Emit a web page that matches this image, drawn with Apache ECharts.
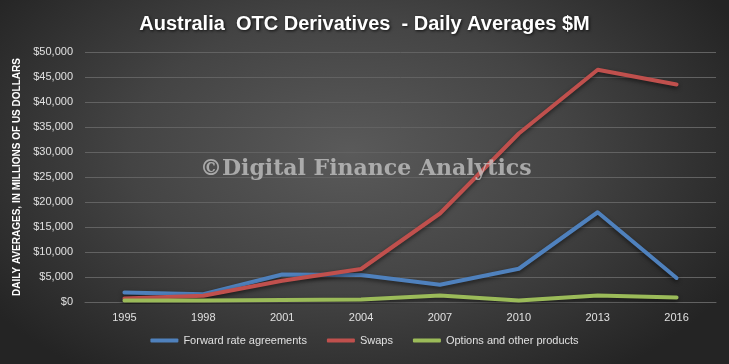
<!DOCTYPE html>
<html>
<head>
<meta charset="utf-8">
<script src="https://cdn.jsdelivr.net/npm/echarts@6/dist/echarts.min.js"></script>
<style>
html,body{margin:0;padding:0;}
#c{width:729px;height:364px;background:radial-gradient(ellipse 60% 75% at 48% 42%, #5a5a5a 0%, #444444 50%, #242424 100%);}
</style>
</head>
<body>
<div id="c"></div>
<script>
const categories = ['1995','1998','2001','2004','2007','2010','2013','2016'];
const forwardRate = [1900, 1550, 5500, 5400, 3450, 6650, 17950, 4800];
const swaps = [700, 1250, 4250, 6600, 17700, 33700, 46450, 43500];
const options = [320, 320, 400, 520, 1300, 320, 1300, 900];
const seriesNames = ['Forward rate agreements', 'Swaps', 'Options and other products'];
const titleText = 'Australia  OTC Derivatives  - Daily Averages $M';
const yAxisName = 'DAILY AVERAGES, IN MILLIONS OF US DOLLARS';
const watermark = '©Digital Finance Analytics';

const colors = ['#4F81BD', '#C0504D', '#9BBB59'];
const chart = echarts.init(document.getElementById('c'));
const font = '"Liberation Sans", Arial, sans-serif';
function lineSeries(name, data, color) {
  return {
    name: name, type: 'line', data: data, symbol: 'none', color: color,
    lineStyle: { width: 4, color: color, shadowColor: 'rgba(0,0,0,0.55)', shadowBlur: 4, shadowOffsetY: 2, cap: 'round', join: 'round' },
    z: 3
  };
}
chart.setOption({
  backgroundColor: 'transparent',
  animation: false,
  color: colors,
  title: {
    text: titleText, left: 'center', top: 9,
    textStyle: { color: '#ffffff', fontSize: 20, fontWeight: 'bold', fontFamily: font,
      textShadowColor: 'rgba(0,0,0,0.8)', textShadowBlur: 3, textShadowOffsetX: 1, textShadowOffsetY: 1 }
  },
  grid: { left: 85, right: 13, top: 52, bottom: 62, containLabel: false },
  legend: {
    data: seriesNames, bottom: 13, left: 'center', itemWidth: 28, itemHeight: 4, itemGap: 20,
    icon: 'roundRect',
    textStyle: { color: '#e0e0e0', fontSize: 11, fontFamily: font }
  },
  xAxis: {
    type: 'category', data: categories, boundaryGap: true,
    axisLine: { show: true, lineStyle: { color: '#626262', width: 1 } },
    axisTick: { show: false },
    axisLabel: { color: '#e0e0e0', fontSize: 11, margin: 10, fontFamily: font }
  },
  yAxis: {
    type: 'value', min: 0, max: 50000, interval: 5000,
    name: yAxisName, nameLocation: 'middle', nameRotate: 90, nameGap: 61,
    nameTextStyle: { color: '#ffffff', fontSize: 10, fontWeight: 'bold', fontFamily: font },
    axisLine: { show: false }, axisTick: { show: false },
    splitLine: { lineStyle: { color: '#626262', width: 1 } },
    axisLabel: { color: '#e0e0e0', fontSize: 11, margin: 12, fontFamily: font,
      formatter: v => '$' + v.toLocaleString('en-US') }
  },
  graphic: [{
    type: 'text', left: 200, top: 158, z: 10,
    style: { text: watermark, fill: 'rgba(200,200,200,0.75)', font: 'bold 22px "DejaVu Serif", serif' }
  }],
  series: [
    lineSeries(seriesNames[0], forwardRate, colors[0]),
    lineSeries(seriesNames[1], swaps, colors[1]),
    lineSeries(seriesNames[2], options, colors[2])
  ]
});
</script>
</body>
</html>
